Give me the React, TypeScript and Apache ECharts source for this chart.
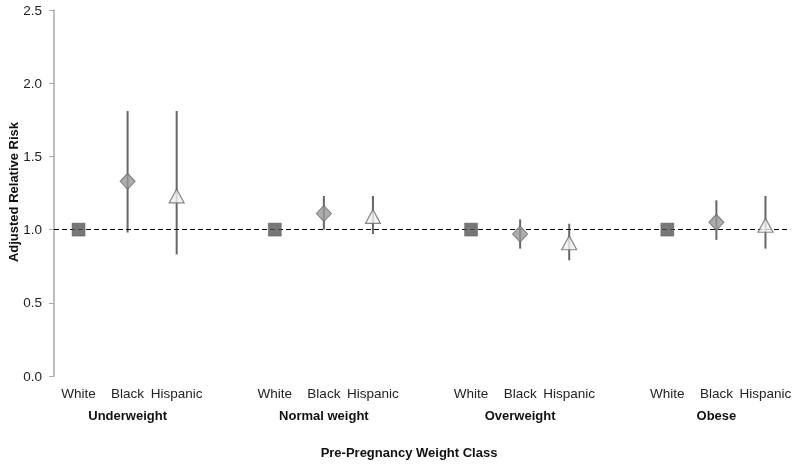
import React, { useEffect, useRef } from "react";
import * as echarts from "echarts";

const groups = ["Underweight", "Normal weight", "Overweight", "Obese"];
const races = ["White", "Black", "Hispanic"];
const yTicks = [0, 0.5, 1.0, 1.5, 2.0, 2.5];

const whiteRR = [1.0, 1.0, 1.0, 1.0];
const blackRR = [1.33, 1.11, 0.97, 1.05];
const blackLo = [0.98, 1.0, 0.87, 0.93];
const blackHi = [1.81, 1.23, 1.07, 1.2];
const hispRR = [1.23, 1.09, 0.91, 1.03];
const hispLo = [0.83, 0.97, 0.79, 0.87];
const hispHi = [1.81, 1.23, 1.04, 1.23];

const yTitle = "Adjusted Relative Risk";
const xTitle = "Pre-Pregnancy Weight Class";

const FONT = "'Liberation Sans', Arial, sans-serif";

export default function App() {
  const ref = useRef<HTMLDivElement>(null);
  useEffect(() => {
    if (!ref.current) return;
    const chart = echarts.init(ref.current, null, { renderer: "svg" });

    // categories: 3 races per group + a blank gap between groups
    const cats: string[] = [];
    const groupCats: string[] = [];
    groups.forEach((g, gi) => {
      races.forEach((r, ri) => {
        cats.push(r);
        groupCats.push(ri === 1 ? g : "");
      });
      if (gi < groups.length - 1) {
        cats.push("");
        groupCats.push("");
      }
    });
    const idx = (g: number, r: number) => g * 4 + r;

    const whiteData = whiteRR.map((v, g) => [idx(g, 0), v]);
    const blackData = blackRR.map((v, g) => [idx(g, 1), v]);
    const hispData = hispRR.map((v, g) => [idx(g, 2), v]);
    const errData: number[][] = [];
    groups.forEach((_, g) => {
      errData.push([idx(g, 1), blackLo[g], blackHi[g]]);
      errData.push([idx(g, 2), hispLo[g], hispHi[g]]);
    });

    chart.setOption({
      animation: false,
      textStyle: { fontFamily: FONT },
      grid: { left: 54, right: 10, top: 10, bottom: 88, containLabel: false, outerBoundsMode: "none" },
      xAxis: [
        {
          type: "category",
          data: cats,
          axisLine: { show: false },
          axisTick: { show: false },
          axisLabel: { interval: 0, margin: 10, fontSize: 13.5, color: "#222", fontFamily: FONT },
        },
        {
          type: "category",
          data: groupCats,
          position: "bottom",
          axisLine: { show: false },
          axisTick: { show: false },
          axisLabel: {
            interval: 0,
            margin: 33,
            fontSize: 13,
            fontWeight: "bold",
            color: "#111",
            fontFamily: FONT,
          },
        },
      ],
      yAxis: {
        type: "value",
        min: yTicks[0],
        max: yTicks[yTicks.length - 1],
        interval: 0.5,
        axisLine: { show: true, lineStyle: { color: "#aaa", width: 1.5 } },
        axisTick: { show: true, length: 5, lineStyle: { color: "#aaa" } },
        splitLine: { show: false },
        axisLabel: {
          margin: 12,
          fontSize: 13.5,
          color: "#222",
          fontFamily: FONT,
          formatter: (v: number) => v.toFixed(1),
        },
      },
      series: [
        {
          type: "custom",
          data: errData,
          encode: { x: 0, y: [1, 2] },
          renderItem: (params: any, api: any) => {
            const x = api.value(0);
            const p1 = api.coord([x, api.value(1)]);
            const p2 = api.coord([x, api.value(2)]);
            return {
              type: "line",
              shape: { x1: p1[0], y1: p1[1], x2: p2[0], y2: p2[1] },
              style: { stroke: "#666", lineWidth: 2 },
            };
          },
          z: 2,
        },
        {
          type: "scatter",
          data: whiteData,
          symbol: "rect",
          symbolSize: 13,
          itemStyle: { color: "#555", borderColor: "#4a4a4a", borderWidth: 0.5 },
          z: 5,
          markLine: {
            silent: true,
            symbol: "none",
            label: { show: false },
            lineStyle: { color: "#000", type: [5, 3], width: 1.2 },
            data: [{ yAxis: 1.0 }],
          },
        },
        {
          type: "scatter",
          data: blackData,
          symbol: "diamond",
          symbolSize: [15, 16],
          itemStyle: { color: "#999", borderColor: "#666", borderWidth: 1 },
          z: 5,
        },
        {
          type: "scatter",
          data: hispData,
          symbol: "triangle",
          symbolSize: [15, 14],
          itemStyle: { color: "#f0f0f0", borderColor: "#6a6a6a", borderWidth: 1.2 },
          z: 5,
        },
      ],
      graphic: [
        {
          type: "text",
          x: 409,
          y: 452,
          style: {
            text: xTitle,
            font: "bold 13px 'Liberation Sans', Arial, sans-serif",
            fill: "#111",
            align: "center",
            verticalAlign: "middle",
          },
        },
        {
          type: "text",
          x: 13,
          y: 192,
          rotation: Math.PI / 2,
          style: {
            text: yTitle,
            font: "bold 13px 'Liberation Sans', Arial, sans-serif",
            fill: "#111",
            align: "center",
            verticalAlign: "middle",
          },
        },
      ],
    });
    return () => chart.dispose();
  }, []);
  return (
    <div
      ref={ref}
      style={{ position: "fixed", left: 0, top: 0, width: 800, height: 464 }}
    />
  );
}
